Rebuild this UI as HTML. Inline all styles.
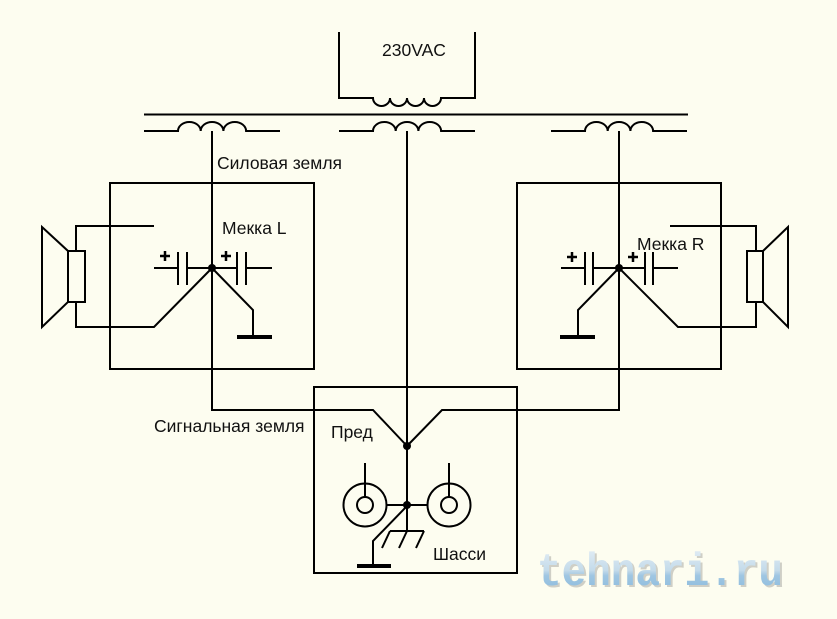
<!DOCTYPE html>
<html><head><meta charset="utf-8"><style>
html,body{margin:0;padding:0;background:#FDFDF0;}
svg{display:block;}
text{font-family:"Liberation Sans",Arial,sans-serif;font-size:17.5px;fill:#111;}
</style></head><body>
<svg width="837" height="619" viewBox="0 0 837 619" xmlns="http://www.w3.org/2000/svg">
<defs>
<linearGradient id="wm" x1="0" y1="0" x2="0" y2="1">
<stop offset="0" stop-color="#e4eef5"/>
<stop offset="0.45" stop-color="#c4dbea"/>
<stop offset="0.55" stop-color="#9fc6e2"/>
<stop offset="1" stop-color="#86b8dc"/>
</linearGradient>
</defs>
<rect width="837" height="619" fill="#FDFDF0"/>
<g fill="none" stroke="#000" stroke-width="2" stroke-linejoin="miter">
<!-- primary -->
<path d="M339,32 V98 H373 a8.5,8 0 0 0 17,0 a8.5,8 0 0 0 17,0 a8.5,8 0 0 0 17,0 a8.5,8 0 0 0 17,0 H475 V32"/>
<!-- core bus -->
<path d="M144,114.5 H688"/>
<!-- secondaries -->
<path d="M144,131 H178 a11.3,9 0 0 1 22.7,0 a11.3,9 0 0 1 22.7,0 a11.3,9 0 0 1 22.7,0 H280"/>
<path d="M339,131 H373 a11.3,9 0 0 1 22.7,0 a11.3,9 0 0 1 22.7,0 a11.3,9 0 0 1 22.7,0 H475"/>
<path d="M551,131 H585 a11.3,9 0 0 1 22.7,0 a11.3,9 0 0 1 22.7,0 a11.3,9 0 0 1 22.7,0 H687"/>
<!-- taps -->
<path d="M212,131 V410 H373 L407,446"/>
<path d="M619,131 V410 H442 L407,446"/>
<path d="M407,131 V531"/>
<!-- boxes -->
<rect x="110" y="183" width="204" height="186"/>
<rect x="517" y="183" width="204" height="186"/>
<rect x="314" y="387" width="203" height="186"/>

<!-- left speaker -->
<path d="M42,227 L68,251 L68,302 L42,327 Z"/>
<rect x="68" y="251" width="17" height="51"/>
<path d="M154,226 H76 V251"/>
<path d="M76,302 V327 H154 L212,268"/>
<!-- left caps -->
<path d="M154,268 H178 M178,252 V285 M187,252 V285 M187,268 H212"/>
<path d="M212,268 H237 M237,252 V285 M246,252 V285 M246,268 H272"/>
<path d="M160,256 H170 M165,251 V261" stroke-width="2.5"/>
<path d="M221,256 H231 M226,251 V261" stroke-width="2.5"/>
<path d="M212,268 L253,310 V337"/>
<path d="M237,337 H272" stroke-width="4"/>

<!-- right side -->
<path d="M561,268 H585 M585,252 V285 M593,252 V285 M593,268 H619"/>
<path d="M619,268 H645 M645,252 V285 M653,252 V285 M653,268 H678"/>
<path d="M567,257 H577 M572,252 V262" stroke-width="2.5"/>
<path d="M628,257 H638 M633,252 V262" stroke-width="2.5"/>
<path d="M619,268 L578,310 V337"/>
<path d="M560,337 H595" stroke-width="4"/>
<path d="M619,268 L678,327 H756 V302"/>
<path d="M670,226 H756 V251"/>
<rect x="747" y="251" width="16" height="51"/>
<path d="M763,251 L788,227 L788,327 L763,302 Z"/>

<!-- center box internals -->
<circle cx="365" cy="505" r="21.5"/>
<circle cx="365" cy="505" r="8"/>
<path d="M365,497 V463"/>
<path d="M386.5,505 H407"/>
<circle cx="449" cy="505" r="21.5"/>
<circle cx="449" cy="505" r="8"/>
<path d="M449,497 V463"/>
<path d="M407,505 H427.5"/>
<path d="M390,531 H424 M390,531 L382,548 M407,531 L399,548 M424,531 L416,548"/>
<path d="M407,506 L373,541 V566"/>
<path d="M357,566 H391" stroke-width="4"/>
</g>
<g fill="#000">
<circle cx="212" cy="268" r="4"/>
<circle cx="619" cy="268" r="4"/>
<circle cx="407" cy="446" r="4"/>
<circle cx="407" cy="505" r="4"/>
</g>
<text x="382" y="56">230VAC</text>
<text x="217" y="169">Силовая земля</text>
<text x="222" y="234">Мекка L</text>
<text x="637" y="250">Мекка R</text>
<text x="154" y="432">Сигнальная земля</text>
<text x="331" y="438">Пред</text>
<text x="433" y="560">Шасси</text>
<!-- watermark -->
<text x="539" y="587" textLength="246" lengthAdjust="spacingAndGlyphs" style="font-family:'Liberation Mono','DejaVu Sans Mono',monospace;font-weight:bold;font-size:46px;fill:#cfcfc6;">tehnari.ru</text>
<text x="537" y="585" textLength="246" lengthAdjust="spacingAndGlyphs" style="font-family:'Liberation Mono','DejaVu Sans Mono',monospace;font-weight:bold;font-size:46px;fill:url(#wm);">tehnari.ru</text>
</svg>
</body></html>
